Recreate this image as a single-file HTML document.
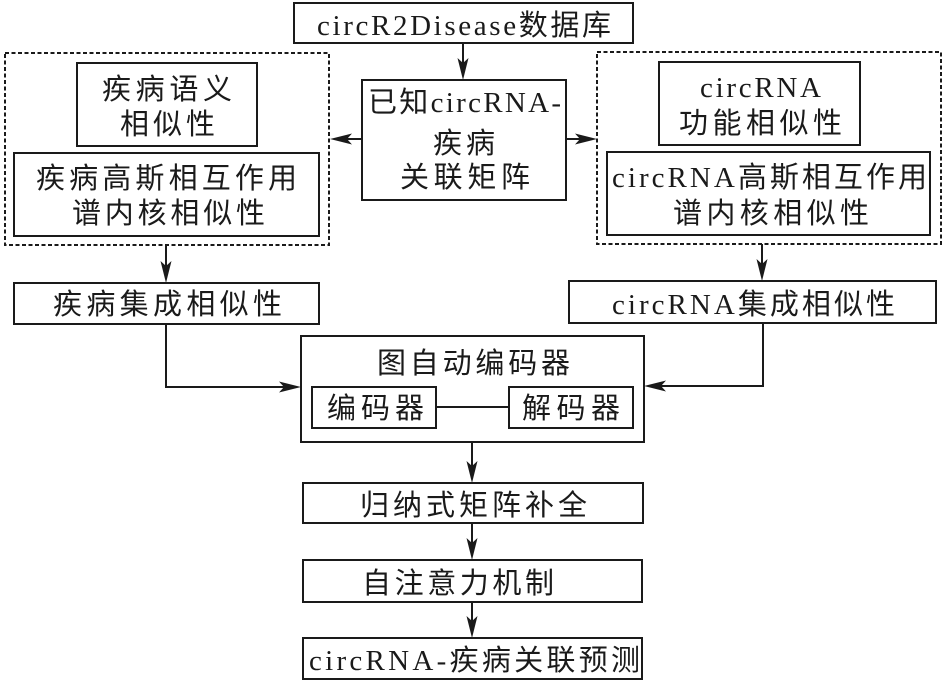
<!DOCTYPE html>
<html><head><meta charset="utf-8"><style>
html,body{margin:0;padding:0;background:#fff;}
svg{display:block;}
text{font-family:"Liberation Serif","Noto Sans CJK SC",sans-serif;font-size:29px;fill:#1a1a1a;}
</style></head><body>
<svg width="946" height="684" viewBox="0 0 946 684" xmlns="http://www.w3.org/2000/svg">
<g fill="none" stroke="#1a1a1a" stroke-width="2">
  <rect x="294" y="3" width="339" height="40"/>
  <rect x="77" y="63" width="180" height="83"/>
  <rect x="14" y="153" width="305" height="83"/>
  <rect x="362" y="80" width="204" height="120"/>
  <rect x="659" y="62" width="201" height="83"/>
  <rect x="607" y="152" width="323" height="83"/>
  <rect x="14" y="283" width="305" height="41"/>
  <rect x="569" y="281" width="367" height="42"/>
  <rect x="301" y="336" width="343" height="106"/>
  <rect x="312" y="387" width="124" height="41"/>
  <rect x="509" y="387" width="124" height="41"/>
  <rect x="303" y="483" width="340" height="40"/>
  <rect x="303" y="560" width="339" height="42"/>
  <rect x="303" y="638" width="339" height="41"/>
  <line x1="436" y1="407" x2="509" y2="407"/>
  <line x1="463" y1="43" x2="463" y2="64"/>
  <line x1="362" y1="139" x2="346" y2="139"/>
  <line x1="566" y1="139" x2="581" y2="139"/>
  <line x1="166" y1="245" x2="166" y2="267"/>
  <line x1="762" y1="244" x2="762" y2="265"/>
  <polyline points="166,324 166,387 285,387"/>
  <polyline points="763,323 763,386 660,386"/>
  <line x1="472" y1="442" x2="472" y2="467"/>
  <line x1="472" y1="523" x2="472" y2="544"/>
  <line x1="472" y1="602" x2="472" y2="622"/>
</g>
<g fill="none" stroke="#1a1a1a" stroke-width="2" stroke-dasharray="4,2.5">
  <rect x="5" y="53" width="324" height="192"/>
  <rect x="597" y="52" width="344" height="192"/>
</g>
<g fill="#1a1a1a">
  <path d="M463,80 L457.5,58 L463,63 L468.5,58 Z"/>
  <path d="M330,139 L352,133.5 L347,139 L352,144.5 Z"/>
  <path d="M597,139 L575,133.5 L580,139 L575,144.5 Z"/>
  <path d="M166,283 L160.5,261 L166,266 L171.5,261 Z"/>
  <path d="M762,281 L756.5,259 L762,264 L767.5,259 Z"/>
  <path d="M301,387 L279,381.5 L284,387 L279,392.5 Z"/>
  <path d="M644,386 L666,380.5 L661,386 L666,391.5 Z"/>
  <path d="M472,483 L466.5,461 L472,466 L477.5,461 Z"/>
  <path d="M472,560 L466.5,538 L472,543 L477.5,538 Z"/>
  <path d="M472,638 L466.5,616 L472,621 L477.5,616 Z"/>
</g>
<g>
  <text x="317" y="35" textLength="294" lengthAdjust="spacing">circR2Disease数据库</text>
  <text x="102" y="99" textLength="130" lengthAdjust="spacing">疾病语义</text>
  <text x="120" y="134" textLength="95" lengthAdjust="spacing">相似性</text>
  <text x="36" y="188" textLength="261" lengthAdjust="spacing">疾病高斯相互作用</text>
  <text x="72" y="223" textLength="193" lengthAdjust="spacing">谱内核相似性</text>
  <text x="53" y="314" textLength="229" lengthAdjust="spacing">疾病集成相似性</text>
  <text x="368" y="112" textLength="193" lengthAdjust="spacing">已知circRNA-</text>
  <text x="433" y="153" textLength="62" lengthAdjust="spacing">疾病</text>
  <text x="400" y="187" textLength="130" lengthAdjust="spacing">关联矩阵</text>
  <text x="700" y="97" textLength="121" lengthAdjust="spacing">circRNA</text>
  <text x="679" y="133" textLength="163" lengthAdjust="spacing">功能相似性</text>
  <text x="612" y="187" textLength="315" lengthAdjust="spacing">circRNA高斯相互作用</text>
  <text x="673" y="223" textLength="196" lengthAdjust="spacing">谱内核相似性</text>
  <text x="612" y="314" textLength="283" lengthAdjust="spacing">circRNA集成相似性</text>
  <text x="377" y="373" textLength="193" lengthAdjust="spacing">图自动编码器</text>
  <text x="327" y="418" textLength="97" lengthAdjust="spacing">编码器</text>
  <text x="522" y="418" textLength="98" lengthAdjust="spacing">解码器</text>
  <text x="360" y="515" textLength="227" lengthAdjust="spacing">归纳式矩阵补全</text>
  <text x="362" y="593" textLength="192" lengthAdjust="spacing">自注意力机制</text>
  <text x="309" y="670" textLength="331" lengthAdjust="spacing">circRNA-疾病关联预测</text>
</g>
</svg>
</body></html>
